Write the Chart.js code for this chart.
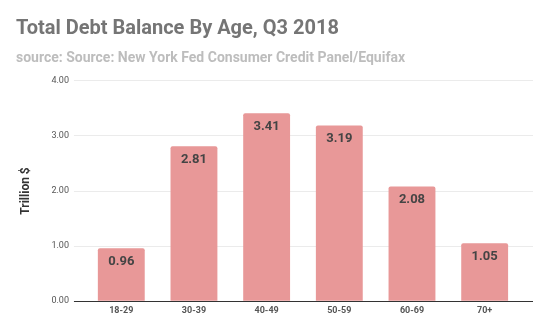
<!DOCTYPE html>
<html>
<head>
<meta charset="utf-8">
<script src="https://cdn.jsdelivr.net/npm/chart.js@4"></script>
<style>
  body { margin: 0; background: #fff; }
  #wrap { width: 550px; height: 330px; }
</style>
</head>
<body>
<div id="wrap"><canvas id="debtChart" width="550" height="330"></canvas></div>
<script>
const ageGroups = ['18-29', '30-39', '40-49', '50-59', '60-69', '70+'];
const debtTrillions = [0.96, 2.81, 3.41, 3.19, 2.08, 1.05];
const yTicks = [0, 1, 2, 3, 4];

// value labels drawn just inside the top of each bar
const barLabels = {
    id: 'barLabels',
    afterDatasetsDraw(chart) {
        const ctx = chart.ctx;
        const meta = chart.getDatasetMeta(0);
        ctx.save();
        ctx.font = 'bold 13px Roboto';
        ctx.fillStyle = '#444444';
        ctx.textAlign = 'center';
        ctx.textBaseline = 'middle';
        meta.data.forEach(function (bar, i) {
            ctx.fillText(debtTrillions[i].toFixed(2), bar.x, bar.y + 13);
        });
        ctx.restore();
    }
};

const gridColor = ctx => ctx.tick && ctx.tick.value === 0 ? '#333333' : '#ebebeb';

document.addEventListener("DOMContentLoaded", function () {
    const ctx = document.getElementById('debtChart').getContext('2d');
    new Chart(ctx, {
        type: 'bar',
        data: {
            labels: ageGroups,
            datasets: [{
                data: debtTrillions,
                backgroundColor: '#e89898',
                borderRadius: { topLeft: 2, topRight: 2 },
                borderSkipped: 'bottom',
                categoryPercentage: 0.645,
                barPercentage: 1.0
            }]
        },
        options: {
            responsive: false,
            animation: false,
            layout: { padding: { top: 15, left: 16, right: 17, bottom: 10 } },
            plugins: {
                legend: { display: false },
                tooltip: { enabled: false },
                title: {
                    display: true,
                    text: 'Total Debt Balance By Age, Q3 2018',
                    align: 'start',
                    color: '#757575',
                    font: { family: 'Roboto', size: 20, weight: 'bold' },
                    padding: { top: 2, bottom: 9 }
                },
                subtitle: {
                    display: true,
                    text: 'source: Source: New York Fed Consumer Credit Panel/Equifax',
                    align: 'start',
                    color: '#bdbdbd',
                    font: { family: 'Roboto', size: 14, weight: 'bold' },
                    padding: { bottom: 14 }
                }
            },
            scales: {
                x: {
                    grid: { display: false, drawTicks: false },
                    border: { display: false },
                    ticks: {
                        color: '#555555',
                        font: { family: 'Roboto', size: 9, weight: 'bold' },
                        padding: 4
                    }
                },
                y: {
                    min: 0,
                    max: 4,
                    afterBuildTicks: function (axis) {
                        axis.ticks = yTicks.map(v => ({ value: v }));
                    },
                    grid: { color: gridColor, drawTicks: true, tickLength: 11 },
                    border: { display: false },
                    ticks: {
                        color: '#555555',
                        font: { family: 'Roboto', size: 9 },
                        padding: 5,
                        callback: v => v.toFixed(2)
                    },
                    title: {
                        display: true,
                        text: 'Trillion $',
                        color: '#333333',
                        font: { family: 'Roboto', size: 12, weight: 'bold' },
                        padding: { top: 3, bottom: 13 }
                    }
                },
                // right-hand scale only carries the grid lines past the last bar
                yRight: {
                    position: 'right',
                    display: true,
                    min: 0,
                    max: 4,
                    afterBuildTicks: function (axis) {
                        axis.ticks = yTicks.map(v => ({ value: v }));
                    },
                    grid: { color: gridColor, drawOnChartArea: false, drawTicks: true, tickLength: 12 },
                    border: { display: false },
                    ticks: { display: false }
                }
            }
        },
        plugins: [barLabels]
    });
});
</script>
</body>
</html>
